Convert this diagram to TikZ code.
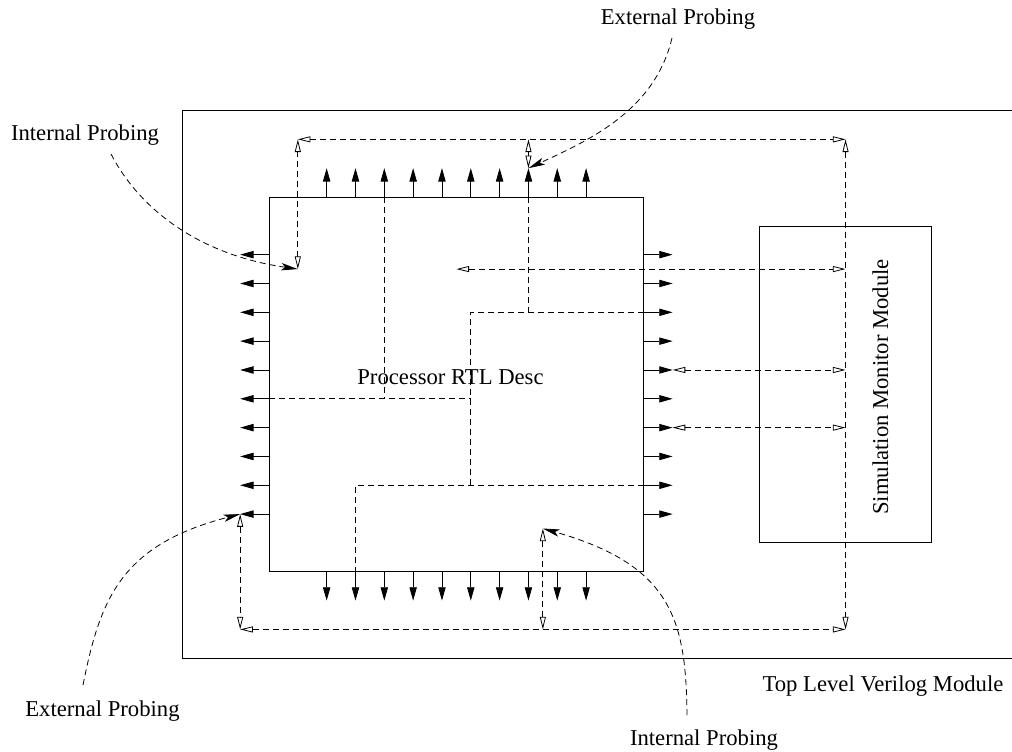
\documentclass[tikz,border=0pt]{standalone}
\usepackage{fontspec}
\setmainfont{Liberation Serif}
\usetikzlibrary{arrows.meta}
\begin{document}
\begin{tikzpicture}[x=0.75pt,y=-0.75pt,
  box/.style={draw=black, line width=0.75pt, inner sep=0pt, outer sep=0pt},
  pin/.style={draw, line width=0.6pt, -{Triangle[length=10pt,width=5.5pt]}},
  probe/.style={draw, line width=0.6pt, dash pattern=on 4.5pt off 3pt,
     {Triangle[open,length=9.5pt,width=4.5pt]}-{Triangle[open,length=9.5pt,width=4.5pt]}},
  wire/.style={draw, line width=0.6pt, dash pattern=on 4.5pt off 3pt},
  callout/.style={draw, line width=0.6pt, dash pattern=on 4.5pt off 3pt,
     -{Stealth[length=12.5pt,width=5.5pt,inset=3pt]}},
  lbl/.style={font=\fontsize{17}{20}\selectfont, anchor=base, inner sep=0pt}]
\useasboundingbox (0,0) rectangle (1012,751);
\clip (0,0) rectangle (1012,751);

% boxes (the top level box runs past the right edge of the picture)
\node[box, minimum width=628pt, minimum height=410.5pt] (toplevel) at (601.35,384.35) {};
\node[box, minimum width=281pt, minimum height=281pt] (proc) at (456.35,384.35) {};
\node[box, minimum width=129pt, minimum height=237.5pt] (sim) at (845,384.35) {};

% grid scope: origin at processor top-left, unit = pin pitch
\begin{scope}[shift={(201.75pt,-147.75pt)}, x=21.62pt, y=-21.62pt]
  \foreach \i in {2,...,11} {
    \coordinate (tb\i) at (\i,0);  \coordinate (tt\i) at (\i,-1);
    \coordinate (bb\i) at (\i,13); \coordinate (bt\i) at (\i,14);
    \coordinate (lb\i) at (0,\i);  \coordinate (lt\i) at (-1,\i);
    \coordinate (rb\i) at (13,\i); \coordinate (rt\i) at (14,\i);
    \draw[pin] (tb\i) -- (tt\i);
    \draw[pin] (bb\i) -- (bt\i);
    \draw[pin] (lb\i) -- (lt\i);
    \draw[pin] (rb\i) -- (rt\i);
  }
  % probe ring corners and ends
  \coordinate (c1) at (1,-2);
  \coordinate (c2) at (20,-2);
  \coordinate (c3) at (20,15);
  \coordinate (c4) at (-1,15);
  \coordinate (p1) at (1,2.5);
  \coordinate (p2) at (9,-2);
  \coordinate (p3) at (9.5,11.5);
  \coordinate (p4) at (9.5,15);
  \coordinate (p5) at (6.5,2.5);
  \coordinate (p6) at (20,2.5);
  \coordinate (p7) at (20,6);
  \coordinate (p8) at (20,8);
  \draw[probe] (p1) -- (c1);
  \draw[probe] (c1) -- (c2);
  \draw[probe] (c2) -- (c3);
  \draw[probe] (c4) -- (c3);
  \draw[probe] (lt11) -- (c4);
  \draw[probe] (p2) -- (tt9);
  \draw[probe] (p3) -- (p4);
  \draw[probe] (p5) -- (p6);
  \draw[probe] (rt6) -- (p7);
  \draw[probe] (rt8) -- (p8);
  % internal wires
  \coordinate (w1) at (4,7);
  \coordinate (w2) at (7,7);
  \coordinate (w3) at (9,4);
  \coordinate (w4) at (7,4);
  \coordinate (w5) at (7,10);
  \coordinate (w6) at (3,10);
  \draw[wire] (tb4) -- (w1);
  \draw[wire] (lb7) -- (w2);
  \draw[wire] (tb9) -- (w3);
  \draw[wire] (rb4) -- (w4) -- (w5);
  \draw[wire] (rb10) -- (w6) -- (bb3);
\end{scope}

% labels
\node[lbl] (extT) at (678,24) {External Probing};
\node[lbl] (intL) at (85,140.7) {Internal Probing};
\node[lbl] (extB) at (102.5,716.7) {External Probing};
\node[lbl] (intB) at (704,745) {Internal Probing};
\node[lbl] (procl) at (450.5,384) {Processor RTL Desc};
\node[lbl] (topl) at (883,691) {Top Level Verilog Module};
\node[lbl, rotate=90] (siml) at (888,387) {Simulation Monitor Module};

% callout curves
\coordinate (s1) at (672,38);
\coordinate (s2) at (111,154);
\coordinate (s3) at (83,685);
\coordinate (s4) at (687,715);
\draw[callout] (s1) .. controls (655,110) and (590,140) .. (tt9);
\draw[callout] (s2) .. controls (140,210) and (200,255) .. (p1);
\draw[callout] (s3) .. controls (100,600) and (120,545) .. (lt11);
\draw[callout] (s4) .. controls (686,620) and (672,565) .. (p3);
\end{tikzpicture}
\end{document}
